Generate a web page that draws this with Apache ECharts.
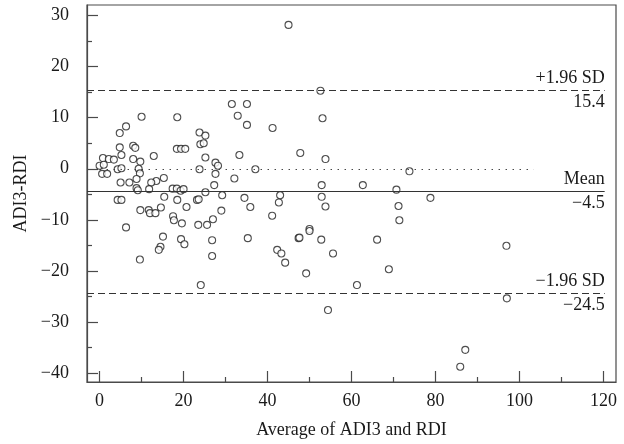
<!DOCTYPE html>
<html>
<head>
<meta charset="utf-8">
<script src="https://cdn.jsdelivr.net/npm/echarts@6/dist/echarts.min.js"></script>
<style>
  html, body { margin: 0; padding: 0; background: #fff; }
  #chart { width: 624px; height: 444px; }
</style>
</head>
<body>
<div id="chart"></div>
<script>
// Bland-Altman: average of the two methods vs their difference
var avgX = [
  10.0, 18.5, 6.3, 4.8, 8.0, 4.8, 8.5, 18.4, 19.4, 20.4,
  5.2, 0.8, 2.2, 3.4, 8.0, 9.7, 12.9, 0.0, 1.0, 4.3,
  5.2, 9.3, 0.6, 1.8, 9.6, 8.8, 5.0, 7.1, 8.8, 9.1,
  15.3, 13.5, 12.3, 11.8, 17.4, 18.4, 19.3, 20.0, 15.4, 18.5,
  4.3, 5.2, 20.7, 9.7, 11.7, 12.0, 13.3, 14.6, 17.5,
  6.3, 17.7, 19.6, 15.1, 19.4, 20.2, 14.5, 14.1, 9.6,
  31.5, 35.1, 32.9, 35.1, 41.2, 23.8, 25.2, 24.0, 24.8, 25.2,
  33.3, 47.8, 27.6, 28.2, 23.8, 27.6, 37.1, 32.1, 27.3, 25.2,
  29.2, 23.2, 23.6, 34.5, 43.0, 42.7, 35.9, 29.0, 27.0, 41.1,
  23.5, 25.6, 26.8, 35.3, 47.4, 26.8, 42.3, 43.3, 44.2, 24.1,
  52.6, 53.1, 53.8, 73.8, 52.9, 62.7, 70.7, 52.9, 53.8, 71.2,
  71.4, 50.0, 47.6, 50.0, 52.8, 55.6, 66.1, 49.2, 68.9, 61.3,
  54.4, 78.8, 96.9, 97.0, 87.1, 85.9, 45.0
];
var diffY = [
  10.2, 10.1, 8.3, 7.0, 4.5, 4.2, 4.1, 3.9, 3.9, 3.9,
  2.7, 2.1, 1.9, 1.8, 1.9, 1.4, 2.5, 0.6, 0.8, -0.1,
  0.1, 0.0, -1.0, -1.0, -0.9, -2.0, -2.7, -2.7, -3.8, -4.2,
  -1.8, -2.4, -2.7, -4.0, -3.9, -3.9, -4.3, -4.0, -5.5, -6.1,
  -6.1, -6.1, -7.5, -8.1, -8.1, -8.7, -8.7, -7.6, -9.3,
  -11.5, -10.1, -10.7, -13.3, -13.8, -14.8, -15.3, -15.9, -17.8,
  12.7, 12.7, 10.4, 8.6, 8.0, 7.1, 6.5, 4.8, 5.0, 2.2,
  2.7, 3.1, 1.2, 0.6, -0.1, -1.0, -0.1, -1.9, -3.2, -4.6,
  -5.2, -6.1, -6.0, -5.7, -5.2, -6.6, -7.5, -8.2, -9.9, -9.2,
  -11.0, -11.0, -14.0, -13.6, -13.6, -17.1, -15.9, -16.6, -18.4, -22.8,
  15.3, 9.9, 1.9, -0.5, -3.2, -3.2, -4.1, -5.5, -7.4, -7.3,
  -10.1, -11.8, -13.5, -12.2, -13.9, -16.6, -13.9, -20.5, -19.7, -22.8,
  -27.7, -5.7, -15.1, -25.4, -35.5, -38.8, 28.2
];
var meanDiff = -4.5;
var upperLimit = 15.4;
var lowerLimit = -24.5;
var zeroLineEnd = 103.4;

var xTicks = [0, 20, 40, 60, 80, 100, 120];
var xMinorTicks = [10, 30, 50, 70, 90, 110];
var yTicks = [-40, -30, -20, -10, 0, 10, 20, 30];
var yMinorTicks = [-35, -25, -15, -5, 5, 15, 25];

var X_MIN = -3, X_MAX = 123, Y_MIN = -41.8, Y_MAX = 32.1, LINE_END = 120.3;
var FONT = '"Liberation Serif", "DejaVu Serif", serif';
var INK = '#1a1a1a';
var AXIS = '#4a4a4a';

function minus(v) { return String(v).replace('-', '\u2212'); }
function fmt(v) { return minus(v.toFixed(1)); }

var points = avgX.map(function (x, i) { return [x, diffY[i]]; });

function refLine(y, dash, top, bottom) {
  var style = { color: '#333', width: 1.2, type: dash };
  var lbl = { show: true, color: INK, fontFamily: FONT, fontSize: 18, distance: [0, 3] };
  return [
    [
      { coord: [X_MIN, y], lineStyle: style,
        label: Object.assign({ position: 'insideEndTop', formatter: top }, lbl) },
      { coord: [LINE_END, y] }
    ],
    [
      { coord: [X_MIN, y], lineStyle: { color: 'rgba(0,0,0,0)', width: 1 },
        label: Object.assign({ position: 'insideEndBottom', formatter: bottom }, lbl) },
      { coord: [LINE_END, y] }
    ]
  ];
}

var lines = []
  .concat(refLine(upperLimit, [7, 4], '+1.96 SD', fmt(upperLimit)))
  .concat(refLine(meanDiff, 'solid', 'Mean', fmt(meanDiff)))
  .concat(refLine(lowerLimit, [7, 4], '\u22121.96 SD', fmt(lowerLimit)));
lines.push([
  { coord: [0, 0], lineStyle: { color: '#333', width: 1.2, type: [1.3, 5.7] }, label: { show: false } },
  { coord: [zeroLineEnd, 0] }
]);

function axisBase(min, max, showLine) {
  return {
    type: 'value', min: min, max: max,
    splitLine: { show: false },
    axisLine: { show: showLine, onZero: false, lineStyle: { color: AXIS, width: 1.2 } }
  };
}

var chart = echarts.init(document.getElementById('chart'), null, { renderer: 'canvas' });
chart.setOption({
  animation: false,
  backgroundColor: '#fff',
  grid: { left: 87, right: 8, top: 5, bottom: 62, show: true, borderColor: AXIS, borderWidth: 1.2 },
  xAxis: [
    Object.assign(axisBase(X_MIN, X_MAX, true), {
      position: 'bottom',
      name: 'Average of ADI3 and RDI', nameLocation: 'middle', nameGap: 39,
      nameTextStyle: { color: INK, fontFamily: FONT, fontSize: 18 },
      axisTick: { show: true, inside: true, length: 11, customValues: xTicks, lineStyle: { color: AXIS, width: 1.2 } },
      axisLabel: { customValues: xTicks, margin: 10, color: INK, fontFamily: FONT, fontSize: 18, formatter: minus }
    }),
    Object.assign(axisBase(X_MIN, X_MAX, false), {
      position: 'bottom',
      axisTick: { show: true, inside: true, length: 5, customValues: xMinorTicks, lineStyle: { color: AXIS, width: 1.2 } },
      axisLabel: { show: false }
    })
  ],
  yAxis: [
    Object.assign(axisBase(Y_MIN, Y_MAX, true), {
      position: 'left',
      name: 'ADI3-RDI', nameLocation: 'middle', nameGap: 56,
      nameTextStyle: { color: INK, fontFamily: FONT, fontSize: 18 },
      axisTick: { show: true, inside: true, length: 11, customValues: yTicks, lineStyle: { color: AXIS, width: 1.2 } },
      axisLabel: { customValues: yTicks, margin: 18, color: INK, fontFamily: FONT, fontSize: 18, formatter: minus }
    }),
    Object.assign(axisBase(Y_MIN, Y_MAX, false), {
      position: 'left',
      axisTick: { show: true, inside: true, length: 5, customValues: yMinorTicks, lineStyle: { color: AXIS, width: 1.2 } },
      axisLabel: { show: false }
    })
  ],
  series: [
    {
      type: 'scatter', data: [], z: 1, silent: true,
      markLine: { symbol: 'none', silent: true, animation: false, data: lines }
    },
    {
      type: 'scatter', data: points, z: 3,
      symbol: 'circle', symbolSize: 7,
      itemStyle: { color: '#fff', borderColor: '#222', borderWidth: 1.1 }
    }
  ]
});
</script>
</body>
</html>
